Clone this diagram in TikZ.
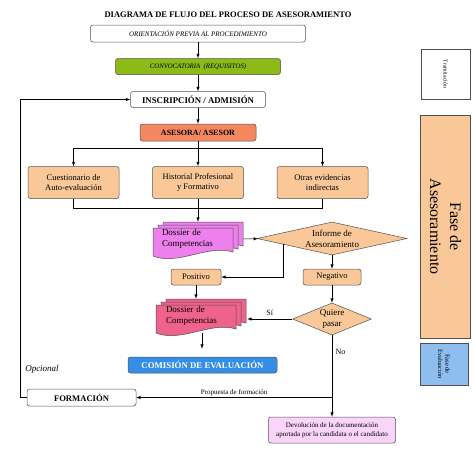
\documentclass[tikz,border=0pt]{standalone}
\usepackage{fontspec}
\setmainfont{Liberation Serif}
\usepackage{tikz}
\usetikzlibrary{calc}
\usetikzlibrary{arrows,shapes,positioning}

\definecolor{ColConv}{RGB}{141,186,22}
\definecolor{ColAses}{RGB}{244,134,96}
\definecolor{ColPeach}{RGB}{250,200,152}
\definecolor{ColDosA}{RGB}{238,128,238}
\definecolor{ColDosB}{RGB}{238,98,140}
\definecolor{ColComi}{RGB}{52,142,230}
\definecolor{ColEval}{RGB}{142,190,240}
\definecolor{ColDevo}{RGB}{250,212,250}
\definecolor{ColEdge}{RGB}{80,80,80}

\newcommand{\FS}[1]{\fontsize{#1}{#1}\selectfont}
% one sheet with a wavy bottom, #1,#2 = top left corner
\newcommand{\DocSheet}[3]{%
  \draw[ColEdge, fill=#3] (#1,#2) -- ++(80,0) -- ++(0,24)
    .. controls +(-25,-8) and +(25,10) .. ++(-80,4) -- cycle;}
% three sheets, the front one at #1,#2
\newcommand{\DocStack}[3]{%
  \DocSheet{#1+10}{#2-6}{#3}
  \DocSheet{#1+5}{#2-3}{#3}
  \DocSheet{#1}{#2}{#3}}

\begin{document}
\begin{tikzpicture}[x=1pt,y=-1pt,node distance=33pt,>=latex,line width=.5pt,
  box/.style={draw=ColEdge, rounded corners=2.5pt, inner sep=0pt, align=center},
  peach/.style={box, fill=ColPeach, minimum width=91pt, minimum height=32pt, font=\FS{8.5}\linespread{1.15}\selectfont},
  small/.style={box, fill=ColPeach, minimum height=16pt, font=\FS{8.5}},
  decision/.style={diamond, draw=ColEdge, fill=ColPeach, inner sep=0pt, aspect=4.5, align=center, font=\FS{9}\linespread{1.2}\selectfont},
  doctext/.style={minimum width=90pt, minimum height=34pt, text width=72pt, inner xsep=9pt, inner ysep=0pt, align=left, font=\FS{9}\linespread{1.2}\selectfont},
  phase/.style={draw=ColEdge, rotate=-90, inner sep=0pt, align=center}]

\useasboundingbox (0,0) rectangle (474,455);

\node[font=\FS{8.5}\bfseries] (title) at (228,15) {DIAGRAMA DE FLUJO DEL PROCESO DE ASESORAMIENTO};

\node[box, minimum width=215pt, minimum height=17pt, font=\FS{7}\itshape] (orient) at (198,33.5) {ORIENTACIÓN PREVIA AL PROCEDIMIENTO};
\node[box, fill=ColConv, minimum width=165pt, minimum height=16pt, font=\FS{6.8}\itshape] (conv) [below of=orient] {CONVOCATORIA \ (REQUISITOS)};
\node[box, minimum width=135pt, minimum height=16pt, font=\FS{8.8}\bfseries] (insc) [below of=conv] {INSCRIPCIÓN / ADMISIÓN};
\node[box, fill=ColAses, minimum width=116pt, minimum height=17pt, font=\FS{8}\bfseries] (ases) [below of=insc] {ASESORA/ ASESOR};

\node[peach, node distance=50pt] (hist) [below of=ases] {Historial Profesional\\y Formativo};
\node[peach, node distance=124.5pt] (cues) [left of=hist] {Cuestionario de\\Auto-evaluación};
\node[peach, node distance=124.5pt] (otras) [right of=hist] {Otras evidencias\\indirectas};

\DocStack{153}{228}{ColDosA}
\node[doctext] (dosa) at (198,239) {Dossier de\\Competencias};
\node[decision, minimum width=150pt, minimum height=33pt] (inf) at (332,238.5) {Informe de\\Asesoramiento};

\node[small, minimum width=50pt] (posi) at (196,277) {Positivo};
\node[small, minimum width=58pt, node distance=38.5pt] (nega) [below of=inf] {Negativo};
\node[decision, minimum width=79pt, minimum height=32pt, aspect=2.5, node distance=42pt] (quiere) [below of=nega] {Quiere\\pasar};

\DocStack{156}{305}{ColDosB}
\node[doctext] (dosb) at (202,316) {Dossier de\\Competencias};

\node[box, fill=ColComi, text=white, minimum width=149pt, minimum height=16pt, font=\FS{8.8}\bfseries] (comi) at (202.5,365) {COMISIÓN DE EVALUACIÓN};
\node[box, minimum width=109pt, minimum height=17pt, font=\FS{8.6}\bfseries] (form) at (81.5,397.5) {FORMACIÓN};
\node[box, fill=ColDevo, minimum width=127pt, minimum height=26pt, font=\FS{7}\linespread{1.3}\selectfont] (devo) at (332,430) {Devolución de la documentación\\aportada por la candidata o el candidato};
\node[font=\FS{9}\itshape] (opc) at (42,369) {Opcional};

% phases on the right
\node[phase, fill=white, minimum width=50pt, minimum height=49pt, font=\FS{5.8}] (tram) at (445.5,74) {Tramitación};
\node[phase, fill=ColPeach, minimum width=223pt, minimum height=50pt, font=\FS{16}\linespread{1.25}\selectfont] (fasea) at (445.5,226.5) {Fase de\\Asesoramiento};
\node[phase, fill=ColEval, minimum width=42pt, minimum height=48pt, font=\FS{6.5}\linespread{1.1}\selectfont] (faseb) at (444,364) {Fase de\\Evaluación};

% connectors
\coordinate (split) at ($(ases.south)+(0,7)$);
\coordinate (prop) at (quiere |- form);
\draw[->] (orient) -- (conv);
\draw[->] (conv) -- (insc);
\draw[->] (insc) -- (ases);
\draw[->] (ases) -- (hist);
\draw[->] (split) -| (cues);
\draw[->] (split) -| (otras);
\draw (cues.south) -- ++(0,9) -| (otras.south);
\draw[->] (hist) -- (dosa);
\draw[->] (dosa) -- (inf);
\draw[->] ($(inf.west)!0.35!(inf.south)$) |- (posi);
\draw[->] (inf) -- (nega);
\draw[->] (nega) -- (quiere);
\draw[->] (posi) -- (posi |- dosb.north);
\draw[->] (quiere.west) -- node[above, font=\FS{8}, pos=.5] {Sí} (quiere.west -| dosb.east);
\draw[->, shorten >=8pt] (dosb) -- (dosb |- comi.north);
\draw[->] (quiere) -- node[right, font=\FS{8}, pos=.2] {No} (devo);
\draw[->] (prop) -- node[above, font=\FS{7}, inner sep=1pt] {Propuesta de formación} (form);
\draw[->] (form.west) -- ++(-7,0) |- (insc);
\end{tikzpicture}
\end{document}
